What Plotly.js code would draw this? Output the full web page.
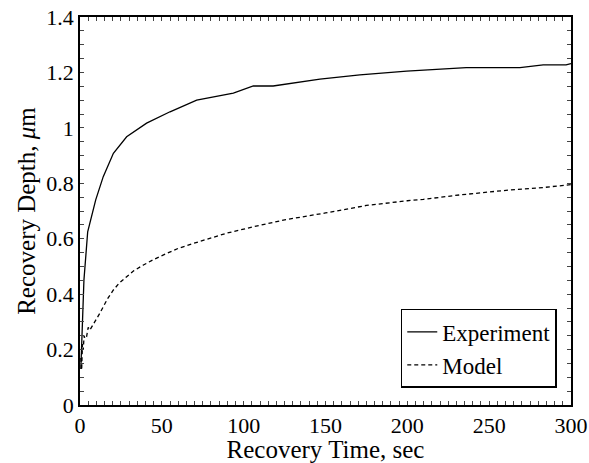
<!DOCTYPE html>
<html><head><meta charset="utf-8">
<script src="https://cdn.plot.ly/plotly-3.0.1.min.js"></script>
<style>html,body{margin:0;padding:0;background:#fff}</style>
</head><body><div id="chart" style="width:589px;height:463px"></div>
<script>
const expTime = [0.5, 1, 2.4, 4.7, 9.6, 14.2, 20.4, 28.5, 40.7, 55, 71.3, 93.7, 101.8, 105.9, 110, 118, 146.6, 171, 199.6, 236, 268.8, 283, 297, 300];
const expDepth = [0.13, 0.2, 0.45, 0.625, 0.74, 0.824, 0.908, 0.968, 1.017, 1.058, 1.1, 1.125, 1.143, 1.151, 1.151, 1.151, 1.176, 1.191, 1.205, 1.217, 1.217, 1.227, 1.227, 1.232];
const modelTime = [0.5, 1, 1.5, 2, 2.5, 3, 4, 5, 6, 8.2, 10, 12, 14.2, 17, 20.4, 24, 28.5, 33, 38.7, 45, 53, 60, 69.2, 80, 89.6, 105.9, 125, 150, 175, 200, 209.8, 232, 262.7, 280, 295, 300];
const modelDepth = [0.17, 0.126, 0.22, 0.2, 0.25, 0.24, 0.246, 0.28, 0.27, 0.295, 0.31, 0.33, 0.355, 0.385, 0.415, 0.44, 0.463, 0.485, 0.505, 0.525, 0.547, 0.565, 0.583, 0.603, 0.62, 0.643, 0.668, 0.693, 0.72, 0.737, 0.742, 0.758, 0.776, 0.783, 0.79, 0.795];
const seriesNames = ["Experiment", "Model"];
const xTickLabels = ["0", "50", "100", "150", "200", "250", "300"];
const yTickLabels = ["0", "0.2", "0.4", "0.6", "0.8", "1", "1.2", "1.4"];
const xTitle = "Recovery Time, sec";
const yTitle = "Recovery Depth, <i>μ</i>m";

// tick positions every minor step; labels only on major values
const xVals = [], xText = [];
for (let i = 0; i <= 60; i++) { xVals.push(i * 5); xText.push(i % 10 === 0 ? xTickLabels[i / 10] : ""); }
const yVals = [], yText = [];
for (let i = 0; i <= 28; i++) { yVals.push(+(i * 0.05).toFixed(2)); yText.push(i % 4 === 0 ? yTickLabels[i / 4] : ""); }

const data = [
  {x: expTime, y: expDepth, name: seriesNames[0], mode: "lines", type: "scatter",
   line: {color: "#000", width: 1.3}},
  {x: modelTime, y: modelDepth, name: seriesNames[1], mode: "lines", type: "scatter",
   line: {color: "#000", width: 1.3, dash: "4px,3px"}}
];
const layout = {
  width: 589, height: 463,
  margin: {l: 80, r: 18, t: 17, b: 58},
  paper_bgcolor: "#fff", plot_bgcolor: "#fff",
  font: {family: "Liberation Serif", size: 22, color: "#000"},
  showlegend: true,
  legend: {x: 0.971, xanchor: "right", y: 0.044, yanchor: "bottom",
           bgcolor: "#fff", bordercolor: "#000", borderwidth: 1.5,
           font: {family: "Liberation Serif", size: 23, color: "#000"}},
  xaxis: {range: [0, 300], tickmode: "array", tickvals: xVals, ticktext: xText,
    ticks: "inside", ticklen: 4, tickwidth: 1.2, tickcolor: "#444444",
    showline: true, linecolor: "#000", linewidth: 1.5, mirror: "ticks",
    showgrid: false, zeroline: false,
    tickfont: {family: "Liberation Serif", size: 22, color: "#000"},
    title: {text: xTitle, standoff: 4, font: {family: "Liberation Serif", size: 25, color: "#000"}}},
  yaxis: {range: [0, 1.4], tickmode: "array", tickvals: yVals, ticktext: yText,
    ticks: "inside", ticklen: 4, tickwidth: 1.2, tickcolor: "#444444",
    showline: true, linecolor: "#000", linewidth: 1.5, mirror: "ticks",
    showgrid: false, zeroline: false,
    tickfont: {family: "Liberation Serif", size: 22, color: "#000"},
    title: {text: yTitle, standoff: 4, font: {family: "Liberation Serif", size: 25, color: "#000"}}}
};
Plotly.newPlot("chart", data, layout, {displayModeBar: false});
</script></body></html>
